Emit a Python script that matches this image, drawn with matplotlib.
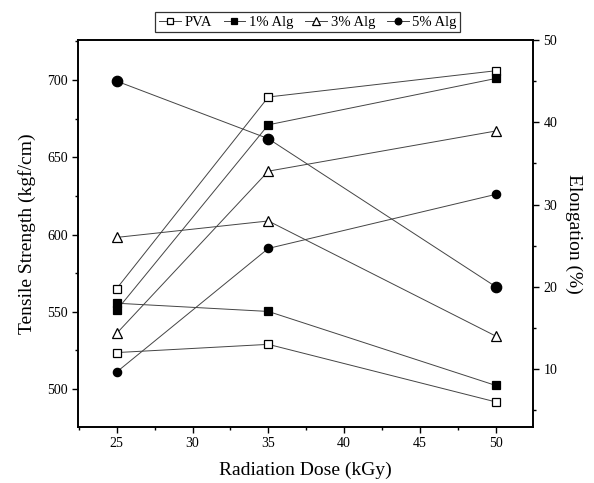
import numpy as np
import matplotlib
matplotlib.use("Agg")
import matplotlib.pyplot as plt
from matplotlib.ticker import MultipleLocator

plt.rcParams['font.family'] = ['Liberation Serif', 'DejaVu Serif']

dose = [25, 35, 50]
series = ['PVA', '1% Alg', '3% Alg', '5% Alg']

# tensile strength (left axis)
tensile = {
    'PVA':    [565, 689, 706],
    '1% Alg': [551, 671, 701],
    '3% Alg': [536, 641, 667],
    '5% Alg': [511, 591, 626],
}
# elongation (right axis)
elong = {
    'PVA':    [12, 13, 6],
    '1% Alg': [18, 17, 8],
    '3% Alg': [26, 28, 14],
    '5% Alg': [45, 38, 20],
}

styles = {
    'PVA':    dict(marker='s', mfc='white', ms=5.5),
    '1% Alg': dict(marker='s', mfc='black', ms=5.5),
    '3% Alg': dict(marker='^', mfc='white', ms=6.5),
    '5% Alg': dict(marker='o', mfc='black', ms=6),
}

fig = plt.figure(figsize=(5.94, 4.83), dpi=100)
ax = fig.add_axes([0.1313, 0.1159, 0.766, 0.8013])
ax2 = ax.twinx()

handles = []
for name in series:
    st = dict(styles[name])
    h, = ax.plot(dose, tensile[name], color='#444444', lw=0.7,
                 mec='black', mew=0.9, label=name, **st)
    if name == '5% Alg':
        st['ms'] = 7.5
    ax2.plot(dose, elong[name], color='#444444', lw=0.7,
             mec='black', mew=0.9, **st)
    handles.append(h)

ax.set_xlim(22.45, 52.45)
ax.set_ylim(475.4, 725.9)
ax2.set_ylim(2.95, 50)

ax.xaxis.set_major_locator(MultipleLocator(5))
ax.xaxis.set_minor_locator(MultipleLocator(2.5))
ax.yaxis.set_major_locator(MultipleLocator(50))
ax.yaxis.set_minor_locator(MultipleLocator(25))
ax2.yaxis.set_major_locator(MultipleLocator(10))
ax2.yaxis.set_minor_locator(MultipleLocator(5))

for a in (ax, ax2):
    for s in a.spines.values():
        s.set_linewidth(1.2)
ax.tick_params(which='both', direction='out', top=False, right=False, labelsize=10)
ax.tick_params(which='major', length=4, width=1)
ax.tick_params(which='minor', length=2.5, width=1)
ax2.tick_params(which='both', direction='out', labelsize=10)
ax2.tick_params(which='major', length=4, width=1)
ax2.tick_params(which='minor', length=2.5, width=1)

ax.set_xlabel('Radiation Dose (kGy)', fontsize=14, labelpad=8)
ax.set_ylabel('Tensile Strength (kgf/cm)', fontsize=14, labelpad=8)
ax2.set_ylabel('Elongation (%)', fontsize=14, rotation=-90, labelpad=18)

leg = fig.legend(handles=handles, loc='center', bbox_to_anchor=(0.518, 0.954),
                 ncol=4, fontsize=10.5, frameon=True, fancybox=False,
                 edgecolor='black', handlelength=1.5, handletextpad=0.25,
                 columnspacing=0.8, borderpad=0.25, markerscale=0.8)
leg.get_frame().set_linewidth(0.9)

fig.savefig('out.png', dpi=100)
